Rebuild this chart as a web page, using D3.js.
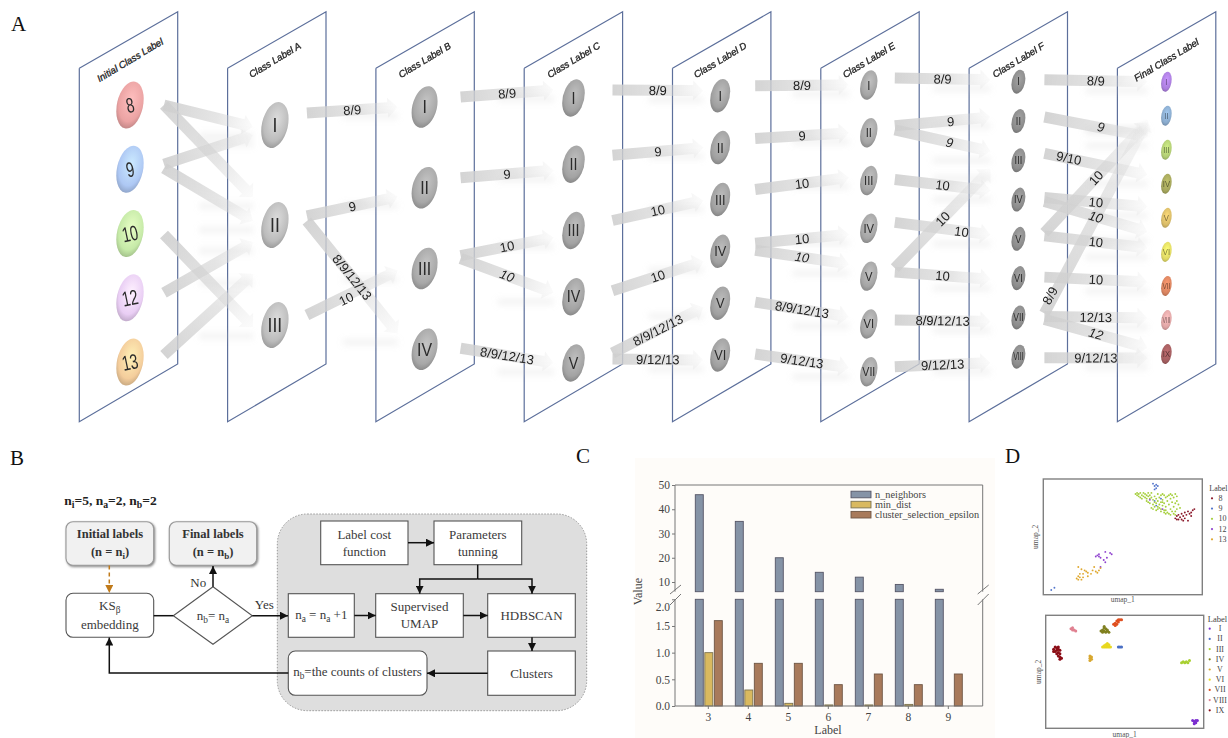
<!DOCTYPE html>
<html>
<head>
<meta charset="utf-8">
<script src="https://cdn.jsdelivr.net/npm/d3@7"></script>
<style>
  html, body { margin: 0; padding: 0; background: #fff; overflow: hidden; }
  svg { display: block; }
  .sans { font-family: "Liberation Sans", Arial, sans-serif; }
  .serif { font-family: "Liberation Serif", "Times New Roman", serif; }
</style>
</head>
<body>
<div id="figure"></div>
<script>
// ---- panel A: class labels in every stage ----
var stageNames = ["Initial Class Label", "Class Label A", "Class Label B", "Class Label C",
    "Class Label D", "Class Label E", "Class Label F", "Final Class Label"];
var stageNodes = [
    ["8", "9", "10", "12", "13"],
    ["I", "II", "III"],
    ["I", "II", "III", "IV"],
    ["I", "II", "III", "IV", "V"],
    ["I", "II", "III", "IV", "V", "VI"],
    ["I", "II", "III", "IV", "V", "VI", "VII"],
    ["I", "II", "III", "IV", "V", "VI", "VII", "VIII"],
    ["I", "II", "III", "IV", "V", "VI", "VII", "VIII", "IX"]
];

// links between neighbouring stages
var linkSource = [
    ["8", "8", "9", "9", "10", "12", "13"],
    ["I", "II", "II", "III"],
    ["I", "II", "III", "III", "IV"],
    ["I", "II", "III", "IV", "V", "V"],
    ["I", "II", "III", "IV", "IV", "V", "VI"],
    ["I", "II", "II", "III", "IV", "V", "V", "VI", "VII"],
    ["I", "II", "III", "IV", "IV", "V", "V", "VI", "VII", "VII", "VII", "VIII"]
];
var linkTarget = [
    ["I", "II", "I", "II", "III", "II", "II"],
    ["I", "II", "IV", "III"],
    ["I", "II", "III", "IV", "V"],
    ["I", "II", "III", "IV", "V", "VI"],
    ["I", "II", "III", "IV", "V", "VI", "VII"],
    ["I", "II", "III", "IV", "V", "III", "VI", "VII", "VIII"],
    ["I", "III", "IV", "V", "VI", "II", "VI", "VII", "II", "VIII", "IX", "IX"]
];
var linkText = [
    ["", "", "", "", "", "", ""],
    ["8/9", "9", "8/9/12/13", "10"],
    ["8/9", "9", "10", "10", "8/9/12/13"],
    ["8/9", "9", "10", "10", "8/9/12/13", "9/12/13"],
    ["8/9", "9", "10", "10", "10", "8/9/12/13", "9/12/13"],
    ["8/9", "9", "9", "10", "10", "10", "10", "8/9/12/13", "9/12/13"],
    ["8/9", "9", "9/10", "10", "10", "10", "10", "10", "8/9", "12/13", "12", "9/12/13"]
];
var linkItalic = [
    [],
    [],
    [3],
    [],
    [4],
    [2],
    [1, 4, 10]
];

// ---- panel C: parameters per label ----
var labelCounts = ["3", "4", "5", "6", "7", "8", "9"];
var paramNames = ["n_neighbors", "min_dist", "cluster_selection_epsilon"];
var nNeighbors = [46, 35, 20, 14, 12, 9, 7];
var minDist = [1.0, 0.3, 0.05, 0.02, 0.02, 0.03, 0];
var clusterEpsilon = [1.6, 0.8, 0.8, 0.4, 0.6, 0.4, 0.6];
var upperTicks = [10, 20, 30, 40, 50];
var lowerTicks = [0, 0.5, 1.0, 1.5, 2.0];

// ---- panel D: umap points, both axes read as 0-100 of the frame ----
var initLabels = ["8", "9", "10", "12", "13"];
var init8 = [[83,66],[84,68],[85,65],[85,69],[86,67],[87,65],[87,70],[88,68],[89,66],[89,71],[90,69],[91,64],[91,72],[92,70],[93,71],[94,73],[95,74],[93,68],[88,64],[84,65]];
var init9 = [[69,96],[70,94],[71,95],[71,92],[72,94],[70,91],[74,83],[70,81],[71,77],[5,4],[7,6]];
var init10 = [[58,87],[59,88],[59,86],[60,85],[60,87],[61,88],[61,84],[62,86],[62,83],[63,85],[63,88],[64,84],[64,87],[65,86],[65,83],[66,88],[66,85],[67,83],[67,86],[68,88],[68,84],[69,82],[70,80],[70,85],[71,79],[71,83],[72,87],[72,81],[73,78],[73,84],[74,80],[74,86],[75,77],[75,82],[76,73],[76,79],[77,84],[77,76],[78,81],[78,71],[79,86],[79,78],[80,74],[80,83],[81,72],[81,80],[82,76],[82,84],[83,72],[83,79],[84,81],[84,74],[85,78],[86,75],[79,70],[77,73],[74,74],[72,76],[69,78],[82,70],[84,85],[80,87],[68,75],[69,74],[70,76],[71,73],[72,74],[73,75],[67,79],[66,80],[75,87],[76,86],[78,85],[81,86],[83,87],[76,71],[77,70],[80,69],[83,69],[74,72],[65,81],[75,80]];
var init12 = [[33,33],[34,34],[35,33],[35,35],[36,32],[39,37],[42,36],[43,35],[40,32],[38,30],[39,28],[36,24],[67,82],[75,74]];
var init13 = [[21,14],[22,16],[22,13],[23,15],[23,18],[24,13],[25,15],[25,18],[26,21],[27,20],[28,16],[28,19],[30,18],[31,21],[32,24],[33,20],[34,19],[35,21],[36,23],[22,24],[24,22]];

var finalLabels = ["I", "II", "III", "IV", "V", "VI", "VII", "VIII", "IX"];
var final1 = [[93,7],[94,6],[95,5],[96,7],[95,7],[94,4]];
var final2 = [[46,72],[47,72],[48,72]];
var final3 = [[86,58],[87,59],[88,58],[89,59],[90,58],[91,60]];
var final4 = [[35,86],[36,85],[37,86],[38,85],[39,86],[40,85],[36,87],[37,89],[38,88],[37,90],[39,87]];
var final5 = [[28,60],[28,62],[29,61],[29,63],[28,64]];
var final6 = [[36,72],[37,72],[38,72],[39,72],[40,72],[37,73],[38,74],[39,75],[40,74],[39,73],[38,73],[41,72]];
var final7 = [[43,92],[44,93],[45,92],[45,95],[46,94],[47,96],[46,96],[48,96],[44,91]];
var final8 = [[16,88],[17,89],[17,87],[18,87],[19,86]];
var final9 = [[5,70],[6,72],[7,71],[8,72],[5,68],[6,68],[7,69],[8,70],[9,69],[7,66],[8,67],[9,66],[8,64],[9,63],[10,62],[9,61]];

// ---- layout and colours ----
var w = 1228, h = 738;
var firstColours = ["#eba3a3", "#aec8f4", "#c6eaa8", "#e9cef4", "#f4cd9c"];
var lastColours = ["#ab7ede", "#8aabcd", "#b2cd74", "#a5a65c", "#d8bb68", "#e0d964", "#d98460", "#e0a6a6", "#a45e60"];
var greyShades = ["", "#bcbcbc", "#a8a8a8", "#a3a3a3", "#a0a0a0", "#a5a5a5", "#8c8c8c", ""];
var nodeInset = [50.7, 47.3, 48.7, 49.3, 47.7, 48, 49.3, 49];
var nodeRangeY = [[105, 362], [125, 325], [107, 349.3], [98, 363], [95.7, 355], [85, 371.7], [81.7, 356.7], [81.7, 354]];
var nodeHalfW = [13.7, 13.7, 13, 11.3, 10, 8.7, 7, 5.3];
var nodeHalfH = [23.5, 23, 20.8, 18.7, 16.7, 14.7, 12, 10];
var tailGap = [34, 32, 36, 39, 35, 26, 26];
var tipGap = [22, 27, 20, 17, 20, 28, 19];
var tailShift = [
    [0, 0, -5, -1, 1, -5, -7],
    [-12, -9, -4, -10],
    [-10, -10, -13, -10, -1],
    [-8, -9, -10, -6, -10, -4],
    [-10, -9, -10, -8, -1, -1, -1],
    [-7, -7, -3, -1, -6, -8, -4, -4, -5],
    [-2, -4, -7, -2, 2, -6, -3, -1, -4, -1, 2, 1]
];
var tipShift = [
    [2, -28, 10, -4, 2, 17, 49],
    [0, 9, -16, 2],
    [-8, 6, 7, -4, 0],
    [-5, 0, 1, 10, 4, 5],
    [0, 0, -3, 6, -12, -7, -4],
    [-2, -4, -9, -9, -4, 9, 1, 4, 6],
    [0, -13, -9, -11, -20, 7, -4, -4, 4, -2, -6, 4]
];
var textShift = {
    "1-3": [-6, 6],
    "5-1": [8, 0], "5-2": [7, 2], "5-4": [19, 3],
    "6-1": [5, 0], "6-2": [-27, -6], "6-8": [-46, 79]
};
var skewSlope = 0.45;

var svg = d3.select("#figure").append("svg").attr("width", w).attr("height", h);
var defs = svg.append("defs");

// fading fill of the wide arrows
var fade = defs.append("linearGradient").attr("id", "arrowFade");
fade.append("stop").attr("offset", "0").attr("stop-color", "#cfcfcf").attr("stop-opacity", 0.9);
fade.append("stop").attr("offset", "0.6").attr("stop-color", "#d4d4d4").attr("stop-opacity", 0.6);
fade.append("stop").attr("offset", "1").attr("stop-color", "#dcdcdc").attr("stop-opacity", 0.1);

defs.append("filter").attr("id", "soft").attr("x", "-30%").attr("y", "-200%").attr("width", "160%").attr("height", "500%")
    .append("feGaussianBlur").attr("stdDeviation", 3);
defs.append("filter").attr("id", "fuzzy")
    .append("feGaussianBlur").attr("stdDeviation", 0.45);
defs.append("filter").attr("id", "boxShadow").attr("x", "-10%").attr("y", "-10%").attr("width", "125%").attr("height", "125%")
    .append("feDropShadow").attr("dx", 1).attr("dy", 1.2).attr("stdDeviation", 1).attr("flood-color", "#888");

function panelLetter(t, x, y) {
    svg.append("text").attr("class", "serif").attr("x", x).attr("y", y)
        .attr("font-size", 21).attr("fill", "#111").text(t);
}
panelLetter("A", 11, 31);
panelLetter("B", 10, 465);
panelLetter("C", 576, 463);
panelLetter("D", 1005, 463);

// ---- panel A ----
var stageX = d3.scalePoint().domain(stageNames).range([79.3, 1117.4]);
var nodeScales = stageNodes.map((nodes, i) => d3.scalePoint().domain(nodes).range(nodeRangeY[i]));
var panelW = 98.4;
var panelH = 353.6;
var panelRise = 56.4;
var lineGen = d3.line();

function nodeX(i) { return stageX(stageNames[i]) + nodeInset[i]; }

var plates = svg.append("g");
stageNames.forEach(function (name) {
    var x0 = stageX(name);
    var top = 68.2;
    plates.append("path")
        .attr("d", lineGen([[x0, top], [x0 + panelW, top - panelRise], [x0 + panelW, top - panelRise + panelH - 1.5], [x0, top + panelH], [x0, top]]))
        .attr("fill", "none")
        .attr("stroke", "#5c6f9b")
        .attr("stroke-width", 1.2);
});

var shadows = svg.append("g").attr("filter", "url(#soft)");
var arrows = svg.append("g");
var linkLabels = svg.append("g").attr("class", "sans");
var shaft = 11, headW = 20, headL = 10;

linkSource.forEach(function (sources, g) {
    sources.forEach(function (src, k) {
        var tx = nodeX(g) + tailGap[g];
        var ty = nodeScales[g](src) + tailShift[g][k];
        var ex = nodeX(g + 1) - tipGap[g];
        var ey = nodeScales[g + 1](linkTarget[g][k]) + tipShift[g][k];
        var len = Math.hypot(ex - tx, ey - ty);
        var angle = Math.atan2(ey - ty, ex - tx) * 180 / Math.PI;

        shadows.append("line")
            .attr("x1", tx + (ex - tx) * 0.4).attr("x2", ex)
            .attr("y1", ey + 9).attr("y2", ey + 9)
            .attr("stroke", "#cccccc").attr("stroke-width", 5).attr("opacity", 0.28);

        arrows.append("path")
            .attr("transform", `translate(${tx},${ty}) rotate(${angle})`)
            .attr("d", lineGen([[0, -shaft / 2], [len - headL, -shaft / 2], [len - headL, -headW / 2], [len, 0],
                [len - headL, headW / 2], [len - headL, shaft / 2], [0, shaft / 2]]) + "Z")
            .attr("fill", "url(#arrowFade)");

        if (linkText[g][k]) {
            var nudge = textShift[g + "-" + k] || [0, 0];
            linkLabels.append("text")
                .attr("transform", `translate(${(tx + ex) / 2 + nudge[0]},${(ty + ey) / 2 + nudge[1]}) rotate(${angle})`)
                .attr("text-anchor", "middle")
                .attr("dy", "0.36em")
                .attr("font-size", 13)
                .attr("font-style", linkItalic[g].includes(k) ? "italic" : "normal")
                .attr("fill", "#222")
                .text(linkText[g][k]);
        }
    });
});

var nodesG = svg.append("g").attr("class", "sans");
stageNodes.forEach(function (nodes, i) {
    var a = nodeHalfW[i];
    var b = Math.sqrt(nodeHalfH[i] * nodeHalfH[i] - a * skewSlope * a * skewSlope);
    nodes.forEach(function (n, j) {
        var base = i === 0 ? firstColours[j] : i === 7 ? lastColours[j] : greyShades[i];
        var id = "node" + i + "_" + j;
        var grad = defs.append("radialGradient").attr("id", id)
            .attr("cx", 0.55).attr("cy", 0.4).attr("r", 0.66);
        grad.append("stop").attr("offset", "0").attr("stop-color", d3.color(base).brighter(0.45));
        grad.append("stop").attr("offset", "0.7").attr("stop-color", base);
        grad.append("stop").attr("offset", "1").attr("stop-color", d3.color(base).darker(0.7));

        var g = nodesG.append("g")
            .attr("transform", `translate(${nodeX(i)},${nodeScales[i](n)})`);
        g.append("ellipse").attr("rx", a).attr("ry", b).attr("fill", `url(#${id})`)
            .attr("transform", `skewY(${-Math.atan(skewSlope) * 180 / Math.PI})`);
        var numeral = g.append("text")
            .attr("text-anchor", "middle")
            .attr("dy", "0.36em")
            .attr("font-size", nodeHalfH[i] * (i === 0 ? 0.9 : 0.85))
            .attr("fill", i === 7 ? d3.color(base).darker(1.6) : "#2b2b2b")
            .text(n);
        // numerals are squeezed to stay inside the oval, the digits of the first stage lean with it
        if (i === 0) {
            numeral.attr("transform", "rotate(-12) scale(0.68,1)");
        } else {
            var fit = Math.min(0.9, 1.5 * a / numeral.node().getComputedTextLength());
            numeral.attr("transform", `scale(${fit},1)`);
        }
    });
});

stageNames.forEach(function (name, i) {
    svg.append("text").attr("class", "sans")
        .attr("transform", `translate(${nodeX(i)},60) rotate(-31)`)
        .attr("text-anchor", "middle")
        .attr("dy", "0.35em")
        .attr("font-size", 9.6)
        .attr("font-style", "italic")
        .attr("stroke", "#222")
        .attr("stroke-width", 0.3)
        .attr("fill", "#222")
        .text(name);
});

// ---- panel B ----
var flow = svg.append("g").attr("class", "serif").attr("fill", "#333");

function richLine(parent, x, y, parts, size, bold) {
    var t = parent.append("text").attr("x", x).attr("y", y)
        .attr("text-anchor", "middle").attr("font-size", size)
        .attr("font-weight", bold ? "bold" : "normal").attr("fill", bold ? "#333" : "#3a3a3a");
    var drop = 0;
    parts.forEach(function (p) {
        var isSub = Array.isArray(p);
        t.append("tspan")
            .attr("dy", (isSub ? 3 : 0) - drop)
            .attr("font-size", isSub ? size * 0.72 : size)
            .text(isSub ? p[0] : p);
        drop = isSub ? 3 : 0;
    });
    return t;
}

function flowBox(x0, y0, x1, y1, opts) {
    flow.append("rect")
        .attr("x", x0).attr("y", y0).attr("width", x1 - x0).attr("height", y1 - y0)
        .attr("rx", opts.rx || 0)
        .attr("fill", opts.fill || "#fff")
        .attr("stroke", opts.stroke || "#555")
        .attr("stroke-width", opts.sw || 1.1)
        .attr("filter", opts.shadow ? "url(#boxShadow)" : null);
}

defs.append("marker").attr("id", "head").attr("viewBox", "0 0 8 8").attr("refX", 8).attr("refY", 4)
    .attr("markerWidth", 8).attr("markerHeight", 8).attr("markerUnits", "userSpaceOnUse").attr("orient", "auto")
    .append("path").attr("d", "M0,0L8,4L0,8Z").attr("fill", "#111");
defs.append("marker").attr("id", "headOrange").attr("viewBox", "0 0 8 8").attr("refX", 8).attr("refY", 4)
    .attr("markerWidth", 8).attr("markerHeight", 8).attr("markerUnits", "userSpaceOnUse").attr("orient", "auto")
    .append("path").attr("d", "M0,0L8,4L0,8Z").attr("fill", "#c07a1a");

function flowLine(pts, marker, colour, dash) {
    flow.append("path").attr("d", lineGen(pts)).attr("fill", "none")
        .attr("stroke", colour || "#111").attr("stroke-width", 1.5)
        .attr("stroke-dasharray", dash || null)
        .attr("marker-end", marker ? `url(#${marker})` : null);
}

flowBox(277.3, 514, 586.7, 710.7, { rx: 30, fill: "#dedede", stroke: "#999", sw: 1 });
flow.select("rect").attr("stroke-dasharray", "1.5,1.5");

richLine(flow, 110.5, 505, ["n", ["i"], "=5, n", ["a"], "=2, n", ["b"], "=2"], 13.5, true).attr("fill", "#222");

flowBox(66, 521.7, 153.7, 565.3, { rx: 7, fill: "#f1f1f1", stroke: "#999", shadow: true });
richLine(flow, 110, 538, ["Initial labels"], 12.5, true);
richLine(flow, 110, 556, ["(n = n", ["i"], ")"], 12.5, true);
flowBox(169.3, 521.7, 256.7, 565.3, { rx: 7, fill: "#f1f1f1", stroke: "#999", shadow: true });
richLine(flow, 213, 538, ["Final labels"], 12.5, true);
richLine(flow, 213, 556, ["(n = n", ["b"], ")"], 12.5, true);

flowBox(66, 593.3, 153.7, 637.3, { rx: 7 });
richLine(flow, 109.8, 610, ["KS", ["β"]], 13);
richLine(flow, 109.8, 629, ["embedding"], 13);

flow.append("path")
    .attr("d", lineGen([[173.3, 615.7], [213, 586.7], [252.3, 615.7], [213, 644.3]]) + "Z")
    .attr("fill", "#fff").attr("stroke", "#555").attr("stroke-width", 1.1);
richLine(flow, 213, 620, ["n", ["b"], "= n", ["a"]], 13);
flow.append("text").attr("x", 198.3).attr("y", 587).attr("text-anchor", "middle").attr("font-size", 13).text("No");
flow.append("text").attr("x", 264.3).attr("y", 609).attr("text-anchor", "middle").attr("font-size", 13).text("Yes");

flowBox(320.7, 521, 408, 564.7, {});
richLine(flow, 364.3, 539, ["Label cost"], 13);
richLine(flow, 364.3, 556, ["function"], 13);
flowBox(434, 521, 521.7, 564.7, {});
richLine(flow, 477.8, 539, ["Parameters"], 13);
richLine(flow, 477.8, 556, ["tunning"], 13);
flowBox(288.3, 593.7, 354.3, 637.3, {});
richLine(flow, 321.3, 619, ["n", ["a"], " = n", ["a"], " +1"], 13);
flowBox(375.7, 593.7, 463.3, 637.3, {});
richLine(flow, 419.5, 611, ["Supervised"], 13);
richLine(flow, 419.5, 628, ["UMAP"], 13);
flowBox(487.7, 593.7, 575.3, 637.3, {});
richLine(flow, 531.5, 620, ["HDBSCAN"], 13);
flowBox(487.7, 651, 575.3, 695.3, {});
richLine(flow, 531.5, 678, ["Clusters"], 13);
flowBox(288.3, 651, 427, 695.3, { rx: 7 });
richLine(flow, 357.5, 676, ["n", ["b"], "=the counts of clusters"], 13);

flowLine([[109.3, 565.5], [109.3, 593]], "headOrange", "#c07a1a", "4,3");
flowLine([[153.7, 615.7], [173.3, 615.7]]);
flowLine([[252.3, 615.7], [288, 615.7]], "head");
flowLine([[213, 586.7], [213, 566]], "head");
flowLine([[408, 542.7], [434, 542.7]], "head");
flowLine([[477.7, 564.7], [477.7, 579]]);
flowLine([[477.7, 579], [419.7, 579], [419.7, 593.7]], "head");
flowLine([[477.7, 579], [532, 579], [532, 593.7]], "head");
flowLine([[354.3, 615.5], [375.7, 615.5]], "head");
flowLine([[463.3, 615.5], [487.7, 615.5]], "head");
flowLine([[532, 637.3], [532, 651]], "head");
flowLine([[487.7, 673.3], [427, 673.3]], "head");
flowLine([[288.3, 673], [109.3, 673], [109.3, 637.6]], "head");

// ---- panel C ----
var barPanel = svg.append("g").attr("class", "serif");
barPanel.append("rect").attr("x", 635).attr("y", 458).attr("width", 360).attr("height", 280).attr("fill", "#fefcf9");

var plotL = 675, plotR = 982.7, plotT = 485, plotB = 706, breakT = 591.7, breakB = 599.3;
var xBar = d3.scaleBand().domain(labelCounts).range([688.3, 968.3]);
var xSub = d3.scaleBand().domain(paramNames).range([7, 34]).paddingInner(0.16);
var yUpper = d3.scaleLinear().domain([6, 50]).range([breakT, plotT]);
var yLower = d3.scaleLinear().domain([0, 2]).range([plotB, breakB]).clamp(true);
var paramValues = [nNeighbors, minDist, clusterEpsilon];
var paramFill = ["#8593a6", "#d9b95f", "#a87a5b"];
var paramEdge = ["#556", "#7c7350", "#6f5644"];

paramNames.forEach(function (name, s) {
    var vals = labelCounts.map((c, i) => ({ c: c, v: paramValues[s][i] }));
    var barG = barPanel.append("g").attr("fill", paramFill[s]).attr("stroke", paramEdge[s]).attr("stroke-width", 0.9);
    barG.selectAll(".low").data(vals.filter(d => d.v > 0)).enter().append("rect")
        .attr("x", d => xBar(d.c) + xSub(name))
        .attr("width", xSub.bandwidth())
        .attr("y", d => yLower(d.v))
        .attr("height", d => plotB - yLower(d.v));
    barG.selectAll(".high").data(vals.filter(d => d.v > 6)).enter().append("rect")
        .attr("x", d => xBar(d.c) + xSub(name))
        .attr("width", xSub.bandwidth())
        .attr("y", d => yUpper(d.v))
        .attr("height", d => breakT - yUpper(d.v));
});

function frameLine(pts) {
    barPanel.append("path").attr("d", lineGen(pts)).attr("fill", "none").attr("stroke", "#777").attr("stroke-width", 1);
}
frameLine([[plotL, breakT], [plotL, plotT], [plotR, plotT], [plotR, breakT]]);
frameLine([[plotL, breakB], [plotL, plotB], [plotR, plotB], [plotR, breakB]]);
[plotL, plotR].forEach(function (bx) {
    frameLine([[bx - 5, 594], [bx + 6, 585]]);
    frameLine([[bx - 5, 605], [bx + 6, 594]]);
});

function styleAxis(g) {
    g.select(".domain").remove();
    g.selectAll("line").attr("stroke", "#777");
    g.selectAll("text").attr("font-size", 11.5).attr("font-family", "Liberation Serif").attr("fill", "#444");
}
barPanel.append("g").attr("transform", `translate(${plotL},0)`)
    .call(d3.axisLeft(yUpper).tickValues(upperTicks).tickSize(3).tickPadding(2)).call(styleAxis);
barPanel.append("g").attr("transform", `translate(${plotL},0)`)
    .call(d3.axisLeft(yLower).tickValues(lowerTicks).tickFormat(d3.format(".1f")).tickSize(3).tickPadding(2)).call(styleAxis)
    .selectAll(".tick").filter(d => d === 2).select("text").attr("dy", "0.95em");
barPanel.append("g").attr("transform", `translate(0,${plotB})`)
    .call(d3.axisBottom(xBar).tickSize(3).tickPadding(4)).call(styleAxis);

barPanel.append("text").attr("transform", "translate(642,591.7) rotate(-90)")
    .attr("text-anchor", "middle").attr("font-size", 12).attr("fill", "#444").text("Value");
barPanel.append("text").attr("x", 828).attr("y", 734)
    .attr("text-anchor", "middle").attr("font-size", 12).attr("fill", "#444").text("Label");

var legendY = d3.scalePoint().domain(paramNames).range([494.5, 514.7]);
paramNames.forEach(function (name, s) {
    barPanel.append("rect").attr("x", 851).attr("y", legendY(name) - 3.3).attr("width", 20).attr("height", 6.6)
        .attr("fill", paramFill[s]).attr("stroke", paramEdge[s]).attr("stroke-width", 0.9);
    barPanel.append("text").attr("x", 875).attr("y", legendY(name)).attr("dy", "0.32em")
        .attr("font-size", 10.3).attr("fill", "#444").text(name);
});

// ---- panel D ----
function umapPanel(box, groups, colours, labels, lg, dotR, sizes) {
    var x = d3.scaleLinear().domain([0, 100]).range([box.x0, box.x1]);
    var y = d3.scaleLinear().domain([0, 100]).range([box.y1, box.y0]);
    var p = svg.append("g").attr("class", "serif");
    p.append("rect").attr("x", box.x0).attr("y", box.y0).attr("width", box.x1 - box.x0).attr("height", box.y1 - box.y0)
        .attr("fill", "#fff").attr("stroke", "#808080").attr("stroke-width", 1.4);
    var dots = p.append("g").attr("filter", "url(#fuzzy)");
    groups.forEach(function (pts, i) {
        dots.selectAll(null).data(pts).enter().append("circle")
            .attr("cx", d => x(d[0])).attr("cy", d => y(d[1]))
            .attr("r", dotR).attr("fill", colours[i]);
    });
    p.append("text").attr("x", (box.x0 + box.x1) / 2).attr("y", box.y1 + sizes.xLabel).attr("dy", "0.32em")
        .attr("text-anchor", "middle").attr("font-size", 7.5).attr("fill", "#555").text("umap_1");
    p.append("text").attr("transform", `translate(${box.x0 + sizes.yLabel},${(box.y0 + box.y1) / 2}) rotate(-90)`)
        .attr("text-anchor", "middle").attr("dy", "0.32em").attr("font-size", 7.5).attr("fill", "#555").text("umap_2");
    p.append("text").attr("x", lg.titleX).attr("y", lg.titleY).attr("dy", "0.32em")
        .attr("font-size", lg.titleSize).attr("fill", "#444").text("Label");
    var ly = d3.scalePoint().domain(labels).range([lg.y0, lg.y1]);
    labels.forEach(function (name, i) {
        p.append("circle").attr("cx", lg.dotX).attr("cy", ly(name)).attr("r", 1.1).attr("fill", colours[i]);
        p.append("text").attr("x", lg.textX).attr("y", ly(name)).attr("dy", "0.32em")
            .attr("text-anchor", lg.anchor).attr("font-size", 8).attr("fill", "#444").text(name);
    });
}

umapPanel({ x0: 1043.3, x1: 1202.3, y0: 479, y1: 594.7 },
    [init8, init9, init10, init12, init13],
    ["#8b1a2b", "#5577cc", "#a6cf3e", "#8f42cf", "#dfa82e"],
    initLabels,
    { titleX: 1209.3, titleY: 488, titleSize: 8, dotX: 1212, textX: 1218.5, y0: 498.3, y1: 539.3, anchor: "start" },
    0.95, { xLabel: 5, yLabel: -7.5 });

umapPanel({ x0: 1045.7, x1: 1203.7, y0: 615.3, y1: 728.3 },
    [final1, final2, final3, final4, final5, final6, final7, final8, final9],
    ["#7b2fd0", "#4a6fc4", "#a8d030", "#808020", "#d8a830", "#e8d820", "#e05020", "#e08090", "#8b0a14"],
    finalLabels,
    { titleX: 1207.8, titleY: 619.3, titleSize: 8.5, dotX: 1209.7, textX: 1220, y0: 628.7, y1: 710.3, anchor: "middle" },
    1.5, { xLabel: 6.7, yLabel: -7.4 });
</script>
</body>
</html>
